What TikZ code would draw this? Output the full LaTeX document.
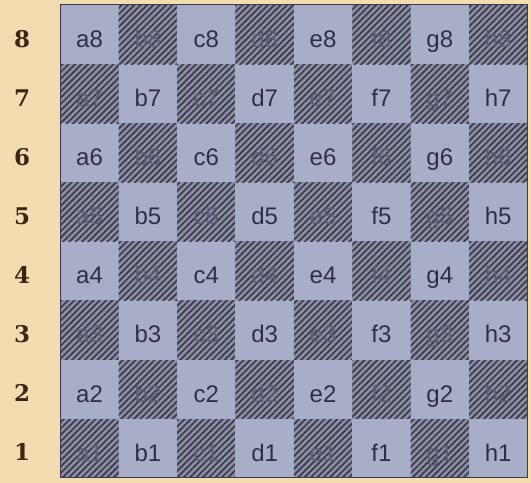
\documentclass[tikz,border=0pt]{standalone}
\usepackage{fontspec}
\setsansfont{Liberation Sans}
\newfontfamily\rankfont{DejaVu Serif}
\usetikzlibrary{patterns.meta}
\definecolor{boardcream}{HTML}{F3DCB0}
\definecolor{boardlight}{HTML}{A9AEC8}
\definecolor{boarddark}{HTML}{8C8EA4}
\definecolor{boardhatch}{HTML}{3A3A4A}
\definecolor{boardink}{HTML}{2E2E48}
\definecolor{rankbrown}{HTML}{3A2614}
\tikzset{
  sq/.style={minimum width=58.4pt, minimum height=59.1pt, inner sep=0pt, anchor=south west, text depth=0pt, text height=0pt},
  lightsq/.style={sq, fill=boardlight, font=\sffamily\fontsize{24}{24}\selectfont, text=boardink},
  darksq/.style={sq, fill=boarddark, font=\sffamily\fontsize{24}{24}\selectfont, text=boardink!50!boarddark,
    postaction={pattern={Lines[angle=45,distance=4.5pt,line width=1.7pt]}, pattern color=boardhatch}},
  rank/.style={font=\rankfont\bfseries\fontsize{23}{23}\selectfont, text=rankbrown},
}
\begin{document}
\begin{tikzpicture}[x=58.4pt,y=59.1pt]
  \fill[boardcream] (-1.03,-0.085) rectangle (8.065,8.088);
  % squares, a1 dark
  \foreach \f/\i in {a/0,b/1,c/2,d/3,e/4,f/5,g/6,h/7}
    \foreach \r in {1,...,8} {
      \pgfmathtruncatemacro\sqcol{mod(\i+\r,2)}
      \ifnum\sqcol=1
        \node[darksq] (\f\r) at (\i,\r-1) {\raisebox{-13pt}{\f\r}};
      \else
        \node[lightsq] (\f\r) at (\i,\r-1) {\raisebox{-13pt}{\f\r}};
      \fi
    }
  \foreach \r in {1,...,8}
    \node[rank] (rank\r) at (-0.65,\r-0.57) {\r};
  \draw[boardhatch, line width=1pt] (a1.south west) rectangle (h8.north east);
\end{tikzpicture}
\end{document}
